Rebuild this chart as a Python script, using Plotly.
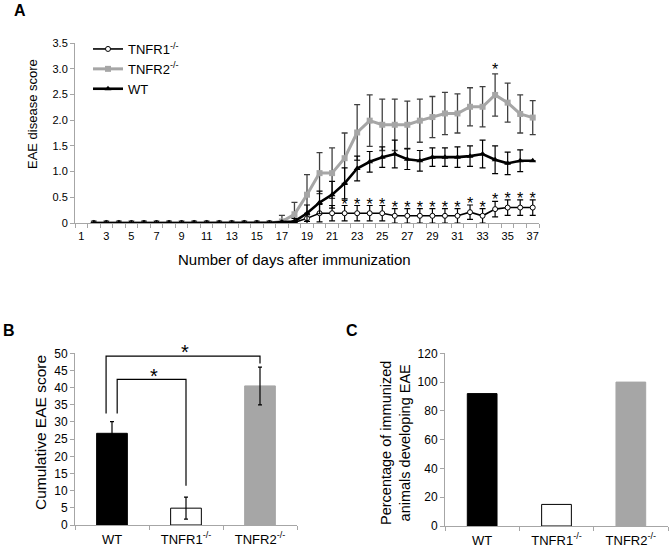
import plotly.graph_objects as go

W, H = 671, 549
FONT = "Liberation Sans, Arial, sans-serif"

# ---------------- Panel A data ----------------
days = list(range(2, 38))
day_ticks = list(range(1, 38, 2))
y_ticks_a = [0, 0.5, 1.0, 1.5, 2.0, 2.5, 3.0, 3.5]
y_ticktext_a = ["0", "0.5", "1.0", "1.5", "2.0", "2.5", "3.0", "3.5"]

zeros15 = [0.0] * 15  # days 2..16
tnfr2_mean = zeros15 + [0.03, 0.17, 0.55, 0.97, 0.97, 1.26, 1.76, 1.99, 1.91, 1.91, 1.91,
                        1.99, 2.06, 2.13, 2.13, 2.26, 2.26, 2.49, 2.34, 2.12, 2.05]
tnfr2_err = zeros15 + [0.12, 0.23, 0.39, 0.40, 0.49, 0.49, 0.54, 0.50, 0.50, 0.50, 0.46,
                       0.42, 0.40, 0.41, 0.38, 0.37, 0.39, 0.41, 0.38, 0.37, 0.33]
wt_mean = zeros15 + [0.02, 0.03, 0.19, 0.40, 0.55, 0.77, 1.06, 1.19, 1.28, 1.34, 1.24,
                     1.21, 1.28, 1.28, 1.28, 1.30, 1.34, 1.23, 1.16, 1.21, 1.21]
wt_err = zeros15 + [0.0, 0.06, 0.16, 0.22, 0.26, 0.30, 0.24, 0.20, 0.20, 0.27, 0.20,
                    0.20, 0.18, 0.18, 0.20, 0.20, 0.27, 0.27, 0.22, 0.21, 0.0]
tnfr1_mean = zeros15 + [0.0, 0.01, 0.09, 0.19, 0.19, 0.19, 0.19, 0.19, 0.19, 0.14, 0.14,
                        0.14, 0.14, 0.14, 0.14, 0.21, 0.14, 0.27, 0.30, 0.30, 0.30]
tnfr1_err = zeros15 + [0.0, 0.03, 0.10, 0.17, 0.15, 0.15, 0.15, 0.15, 0.15, 0.14, 0.14,
                       0.14, 0.14, 0.14, 0.14, 0.14, 0.14, 0.15, 0.15, 0.15, 0.15]
tnfr1_star_days = list(range(22, 38))
tnfr2_star_days = [34]

# ---------------- Panel B / C data ----------------
groups = ["WT", "TNFR1<sup>-/-</sup>", "TNFR2<sup>-/-</sup>"]
cum_score = [26.7, 4.9, 40.5]
cum_err = [3.4, 3.2, 5.5]
pct_eae = [92, 15, 100]
bar_fill = ["#000000", "#FFFFFF", "#A6A6A6"]
bar_line = ["#000000", "#000000", "#A6A6A6"]

# significance brackets (x in category units, y in score units)
bracket_outer = dict(x0=-0.08, x1=2.0, ytop=49.2, yleft=32.5, yright=47.0)
bracket_inner = dict(x0=0.07, x1=1.0, ytop=42.4, yleft=32.5, yright=11.4)

AXIS_GRAY = "#A6A6A6"

fig = go.Figure()

# TNFR2 (gray)
fig.add_trace(go.Scatter(
    x=days, y=tnfr2_mean, name="TNFR2<sup>-/-</sup>", mode="lines+markers",
    line=dict(color="#A6A6A6", width=3),
    marker=dict(symbol="square", size=6, color="#A6A6A6"),
    error_y=dict(type="data", array=tnfr2_err, color="#404040", thickness=1.3, width=3),
    legendrank=2, xaxis="x", yaxis="y"))
# TNFR1 (white circles)
fig.add_trace(go.Scatter(
    x=days, y=tnfr1_mean, name="TNFR1<sup>-/-</sup>", mode="lines+markers",
    line=dict(color="#000000", width=1.6),
    marker=dict(symbol="circle", size=5, color="#FFFFFF", line=dict(color="#000000", width=1)),
    error_y=dict(type="data", array=tnfr1_err, color="#000000", thickness=1.2, width=3),
    legendrank=1, xaxis="x", yaxis="y"))
# WT (black triangles)
fig.add_trace(go.Scatter(
    x=days, y=wt_mean, name="WT", mode="lines+markers",
    line=dict(color="#000000", width=2.6),
    marker=dict(symbol="triangle-up", size=6, color="#000000"),
    error_y=dict(type="data", array=wt_err, color="#000000", thickness=1.2, width=3),
    legendrank=3, xaxis="x", yaxis="y"))

# stars in panel A
star1_y = [tnfr1_mean[days.index(d)] + tnfr1_err[days.index(d)] for d in tnfr1_star_days]
star2_y = [tnfr2_mean[days.index(d)] + tnfr2_err[days.index(d)] + 0.05 for d in tnfr2_star_days]
fig.add_trace(go.Scatter(
    x=tnfr1_star_days + tnfr2_star_days, y=star1_y + star2_y, mode="text",
    text=["*"] * (len(tnfr1_star_days) + len(tnfr2_star_days)),
    textposition="middle center", textfont=dict(family=FONT, size=16, color="#000000"),
    showlegend=False, hoverinfo="skip", cliponaxis=False, xaxis="x", yaxis="y"))

# Panel B bars
fig.add_trace(go.Bar(
    x=[0, 1, 2], y=cum_score, width=0.415,
    marker=dict(color=bar_fill, line=dict(color=bar_line, width=1)),
    error_y=dict(type="data", array=cum_err, color="#000000", thickness=1.2, width=2),
    showlegend=False, xaxis="x2", yaxis="y2"))

# Panel C bars
fig.add_trace(go.Bar(
    x=[0, 1, 2], y=pct_eae, width=0.40,
    marker=dict(color=bar_fill, line=dict(color=bar_line, width=1)),
    showlegend=False, xaxis="x3", yaxis="y3"))

tickfont = dict(family=FONT, size=11, color="#000000")
common_axis = dict(showline=True, linecolor=AXIS_GRAY, linewidth=1, showgrid=False,
                   zeroline=False, tickfont=tickfont, automargin=False)

def px_x(p):
    return p / W

def px_y(p):
    return 1 - p / H

fig.update_layout(
    width=W, height=H, margin=dict(l=0, r=0, t=0, b=0, autoexpand=False),
    paper_bgcolor="white", plot_bgcolor="white",
    font=dict(family=FONT, color="#000000"),
    xaxis=dict(domain=[px_x(75), px_x(539)], anchor="y", range=[0.5, 37.5],
               tickmode="array", tickvals=day_ticks, ticks="", ticklabelstandoff=3,
               minor=dict(tickmode="array", tickvals=[d + 0.5 for d in range(0, 38)],
                          ticks="outside", ticklen=4, tickcolor=AXIS_GRAY),
               **common_axis),
    yaxis=dict(domain=[px_y(223), px_y(43)], anchor="x", range=[0, 3.5],
               tickmode="array", tickvals=y_ticks_a, ticktext=y_ticktext_a,
               ticks="outside", ticklen=4, tickcolor=AXIS_GRAY, **common_axis),
    xaxis2=dict(domain=[px_x(75), px_x(297)], anchor="y2", range=[-0.5, 2.5],
                tickmode="array", tickvals=[0, 1, 2], ticktext=groups, ticks="",
                ticklabelstandoff=2,
                minor=dict(tickmode="array", tickvals=[-0.5, 0.5, 1.5, 2.5],
                           ticks="outside", ticklen=4, tickcolor=AXIS_GRAY),
                **{**common_axis, "tickfont": dict(family=FONT, size=13, color="#000000")}),
    yaxis2=dict(domain=[px_y(525), px_y(353.3)], anchor="x2", range=[0, 50],
                tickmode="linear", tick0=0, dtick=5,
                ticks="outside", ticklen=4, tickcolor=AXIS_GRAY,
                **{**common_axis, "tickfont": dict(family=FONT, size=12, color="#000000")}),
    xaxis3=dict(domain=[px_x(445), px_x(668)], anchor="y3", range=[-0.5, 2.5],
                tickmode="array", tickvals=[0, 1, 2], ticktext=groups, ticks="",
                ticklabelstandoff=2,
                minor=dict(tickmode="array", tickvals=[-0.5, 0.5, 1.5, 2.5],
                           ticks="outside", ticklen=4, tickcolor=AXIS_GRAY),
                **{**common_axis, "tickfont": dict(family=FONT, size=13, color="#000000")}),
    yaxis3=dict(domain=[px_y(526), px_y(353.3)], anchor="x3", range=[0, 120],
                tickmode="linear", tick0=0, dtick=20,
                ticks="outside", ticklen=4, tickcolor=AXIS_GRAY,
                **{**common_axis, "tickfont": dict(family=FONT, size=12, color="#000000")}),
    legend=dict(x=px_x(88), y=px_y(34), xanchor="left", yanchor="top",
                bgcolor="rgba(0,0,0,0)", font=dict(family=FONT, size=13, color="#000000"),
                tracegroupgap=0, itemwidth=30),
    showlegend=True,
)

# brackets
for b in (bracket_outer, bracket_inner):
    fig.add_shape(type="path", xref="x2", yref="y2",
                  path=f"M {b['x0']},{b['yleft']} L {b['x0']},{b['ytop']} L {b['x1']},{b['ytop']} L {b['x1']},{b['yright']}",
                  line=dict(color="#000000", width=1.2))

def note(text, x, y, size, angle=0, bold=False):
    return dict(text=f"<b>{text}</b>" if bold else text, x=px_x(x), y=px_y(y),
                xref="paper", yref="paper", xanchor="center", yanchor="middle",
                showarrow=False, textangle=angle,
                font=dict(family=FONT, size=size, color="#000000"))

ann = [
    note("A", 20, 11, 16, bold=True),
    note("B", 9, 330, 16, bold=True),
    note("C", 352, 330, 16, bold=True),
    note("Number of days after immunization", 294, 260, 15),
    note("EAE disease score", 32, 114, 13, angle=-90),
    note("Cumulative EAE score", 40, 433, 15.5, angle=-90),
    note("Percentage of immunized<br>animals developing EAE", 395, 443, 14.5, angle=-90),
    note("*", 185, 352, 20),
    note("*", 154, 376, 20),
]
fig.update_layout(annotations=ann)

fig.write_html("out.html", config={"displayModeBar": False},
               post_script="document.body.style.margin='0px';document.body.style.overflow='hidden';")
